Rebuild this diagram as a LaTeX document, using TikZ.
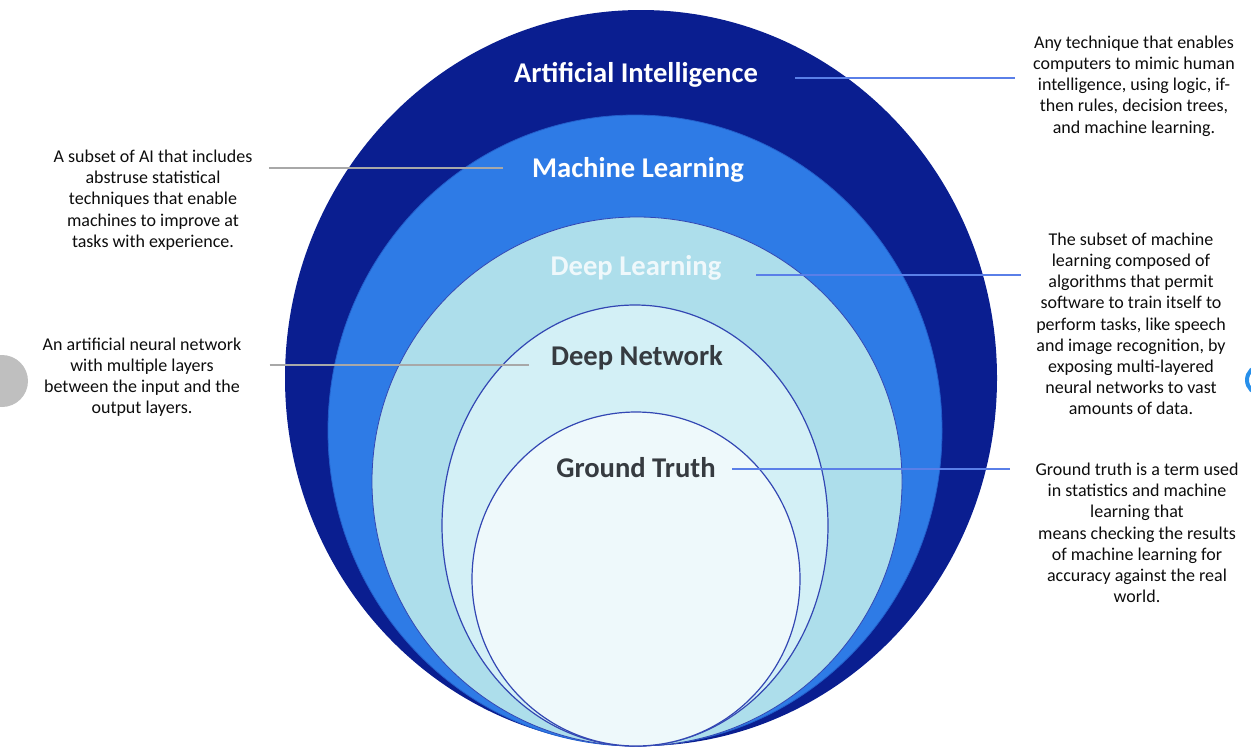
\documentclass[tikz,border=0pt]{standalone}
\usepackage{fontspec}
\setmainfont{Carlito}
\usetikzlibrary{calc}
\definecolor{aiblue}{HTML}{0A1E90}
\definecolor{mlblue}{HTML}{2E7BE6}
\definecolor{dlblue}{HTML}{ADDEEB}
\definecolor{dnblue}{HTML}{D3F0F6}
\definecolor{gtblue}{HTML}{EEF9FB}
\definecolor{rimblue}{HTML}{3347B3}
\definecolor{linkblue}{HTML}{5A7FE8}
\definecolor{linkgrey}{HTML}{A8A8A8}
\definecolor{labgrey}{HTML}{363B40}
\begin{document}
\begin{tikzpicture}[x=0.5pt,y=-0.5pt,
        title/.style={font=\fontsize{14.3}{16}\selectfont\bfseries,inner sep=0pt,anchor=base},
        desc/.style={font=\fontsize{9}{10.6}\selectfont,align=center,inner sep=0pt,text=black!95},
        blink/.style={draw=linkblue,line width=0.75pt},
        glink/.style={draw=linkgrey,line width=0.75pt}]
    \useasboundingbox (0,0) rectangle (1251,751);
    \fill[black!25] (2,381) circle[radius=26];
    \draw[mlblue!85!cyan,line width=2pt] (1261,380) circle[radius=14];
    \fill[aiblue] (641,378) ellipse[x radius=356,y radius=368];
    \filldraw[fill=mlblue,draw=mlblue!70!aiblue,line width=0.4pt] (635,430.5) ellipse[x radius=307,y radius=315.5];
    \filldraw[fill=dlblue,draw=rimblue,line width=0.4pt] (637,481.5) ellipse[x radius=265,y radius=264.5];
    \filldraw[fill=dnblue,draw=rimblue,line width=0.6pt] (635,525.5) ellipse[x radius=193,y radius=220.5];
    \filldraw[fill=gtblue,draw=rimblue,line width=0.6pt] (636,579) ellipse[x radius=164,y radius=167];
    \node[title,text=white] (ai) at (636,82) {Artificial Intelligence};
    \node[title,text=white] (ml) at (638,177) {Machine Learning};
    \node[title,text=dlblue!20!white] (dl) at (636,275) {Deep Learning};
    \node[title,text=labgrey] (dn) at (637,365) {Deep Network};
    \node[title,text=labgrey] (gt) at (636,477) {Ground Truth};
    \node[desc] (aidesc) at (1134,86) {Any technique that enables\\computers to mimic human\\intelligence, using logic, if-\\then rules, decision trees,\\and machine learning.};
    \node[desc] (mldesc) at (153,200) {A subset of AI that includes\\abstruse statistical\\techniques that enable\\machines to improve at\\tasks with experience.};
    \node[desc] (dldesc) at (1131,324) {The subset of machine\\learning composed of\\algorithms that permit\\software to train itself to\\perform tasks, like speech\\and image recognition, by\\exposing multi-layered\\neural networks to vast\\amounts of data.};
    \node[desc] (dndesc) at (142,377) {An artificial neural network\\with multiple layers\\between the input and the\\output layers.};
    \node[desc] (gtdesc) at (1137,533) {Ground truth is a term used\\in statistics and machine\\learning that\\means checking the results\\of machine learning for\\accuracy against the real\\world.};
    \draw[blink] ($(ai.base east)+(37,-4)$) -- ($(ai.base east -| aidesc.west)+(-18,-4)$);
    \draw[glink] ($(ml.base west -| mldesc.east)+(16,-9)$) -- ($(ml.base west)+(-29,-9)$);
    \draw[blink] ($(dl.base east)+(34,0)$) -- ($(dl.base east -| dldesc.west)+(-15,0)$);
    \draw[glink] ($(dn.base west -| dndesc.east)+(28,0)$) -- ($(dn.base west)+(-22,0)$);
    \draw[blink] ($(gt.base east)+(16,-8)$) -- ($(gt.base east -| gtdesc.west)+(-25,-8)$);
\end{tikzpicture}
\end{document}
